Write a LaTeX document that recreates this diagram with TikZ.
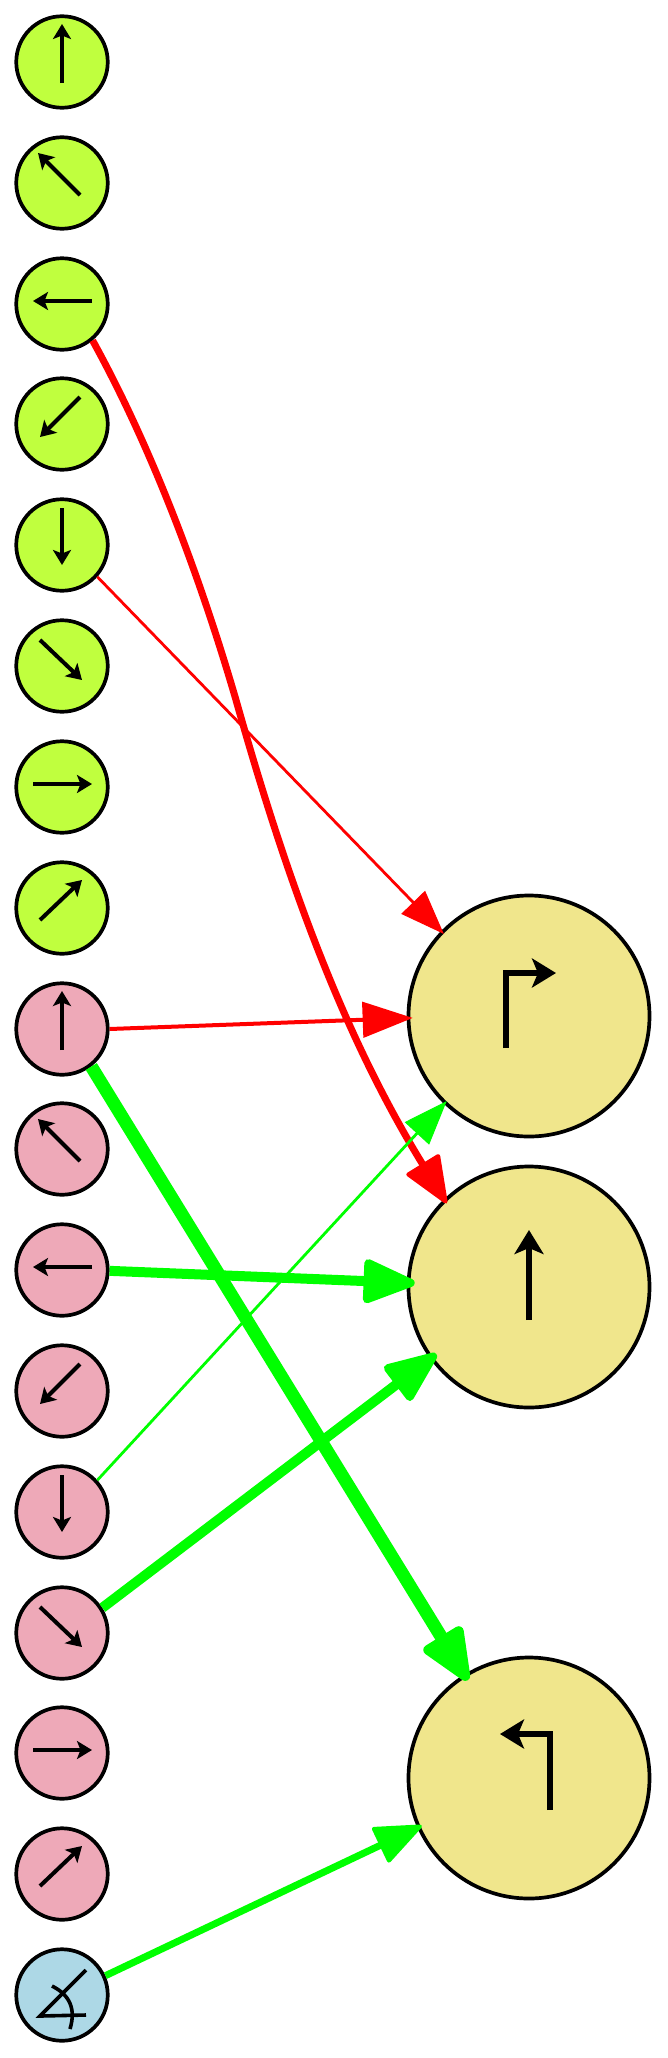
\documentclass[tikz,border=0pt]{standalone}
\usetikzlibrary{arrows.meta}
\definecolor{cgreen}{HTML}{C0FF3E}
\definecolor{cpink}{HTML}{EEA9B8}
\definecolor{cblue}{HTML}{ADD8E6}
\definecolor{ckhaki}{HTML}{F0E68C}
\tikzset{
  small/.style={circle,draw=black,line width=3.7pt,minimum size=91.5pt,inner sep=0pt},
  big/.style={circle,draw=black,fill=ckhaki,line width=3.7pt,minimum size=241pt,inner sep=0pt},
  glyph/.style={line width=4pt,-{Stealth[length=15pt,width=18pt,inset=3.5pt]}},
  bigglyph/.style={line width=5.5pt,miter limit=10,-{Stealth[length=24pt,width=29pt,inset=6pt]}},
  edgeA/.style={line width=2.8pt,shorten >=-4pt,-{Triangle[length=44pt,width=33pt,line width=1pt]}},
  edgeB/.style={line width=4pt,shorten >=-6pt,-{Triangle[length=50pt,width=36pt,line width=1.5pt]}},
  edgeC/.style={line width=7pt,shorten >=-5pt,-{Triangle[length=50pt,width=40pt,round,line width=4pt]}},
  edgeD/.style={line width=10pt,shorten >=-8pt,-{Triangle[length=58pt,width=46pt,round,line width=8pt]}},
  edgeE/.style={line width=13pt,shorten >=-7pt,-{Triangle[length=60pt,width=48pt,round,line width=10pt]}},
}
\begin{document}
\begin{tikzpicture}[x=1pt,y=-1pt]
\useasboundingbox (0,0) rectangle (667,2058);
\node[small,fill=cgreen] (l0) at (62,62) {};
\node[small,fill=cgreen] (l1) at (62,183) {};
\node[small,fill=cgreen] (l2) at (62,304) {};
\node[small,fill=cgreen] (l3) at (62,424) {};
\node[small,fill=cgreen] (l4) at (62,545) {};
\node[small,fill=cgreen] (l5) at (62,666) {};
\node[small,fill=cgreen] (l6) at (62,787) {};
\node[small,fill=cgreen] (l7) at (62,908) {};
\node[small,fill=cpink] (l8) at (62,1029) {};
\node[small,fill=cpink] (l9) at (62,1149) {};
\node[small,fill=cpink] (l10) at (62,1270) {};
\node[small,fill=cpink] (l11) at (62,1391) {};
\node[small,fill=cpink] (l12) at (62,1512) {};
\node[small,fill=cpink] (l13) at (62,1633) {};
\node[small,fill=cpink] (l14) at (62,1753) {};
\node[small,fill=cpink] (l15) at (62,1874) {};
\node[small,fill=cblue] (l16) at (62,1995) {};
\node[big] (r1) at (529,1016) {};
\node[big] (r2) at (529,1287) {};
\node[big] (r3) at (529,1778) {};
% direction glyphs
\foreach \n/\a/\b/\c/\d in {l0/0/21/0/-38,l1/18/12/-24/-30,l2/30/-3/-29/-3,l3/18/-27/-22/13,l4/0/-37/0/20,l5/-22/-26/20/14,l6/-29/-3/30/-3,l7/-22/12/20/-28,
 l8/0/21/0/-38,l9/18/12/-24/-30,l10/30/-3/-29/-3,l11/18/-27/-22/13,l12/0/-37/0/20,l13/-22/-26/20/14,l14/-29/-3/30/-3,l15/-22/12/20/-28}{
  \draw[glyph] ([shift={(\a,\b)}]\n.center) -- ([shift={(\c,\d)}]\n.center);
}
% angle glyph
\draw[line width=3.6pt] ([shift={(24,-25)}]l16.center) -- ([shift={(-22,21)}]l16.center) -- ([shift={(24,20)}]l16.center);
\draw[line width=3.6pt] ([shift={(-10,-9)}]l16.center) .. controls ([shift={(8,0)}]l16.center) and ([shift={(14,14)}]l16.center) .. ([shift={(8,34)}]l16.center);
% big glyphs
\draw[bigglyph] ([shift={(-23,32)}]r1.center) -- ([shift={(-23,-43)}]r1.center) -- ([shift={(27,-43)}]r1.center);
\draw[bigglyph] ([shift={(0,33)}]r2.center) -- ([shift={(0,-57)}]r2.center);
\draw[bigglyph] ([shift={(21,32)}]r3.center) -- ([shift={(21,-44)}]r3.center) -- ([shift={(-29,-44)}]r3.center);
% edges
\coordinate (cm) at (236,700);
\draw[edgeC,red] (l2.-50) .. controls (153,450) and (201,580) .. (cm) .. controls (284,870) and (340,1030) .. (r2.134);
\draw[edgeA,red] (l4.-42) -- (r1.136);
\draw[edgeB,red] (l8.0) -- (r1.181);
\draw[edgeA,green] (l12.42) -- (r1.226);
\draw[edgeD,green] (l10.-1) -- (r2.178);
\draw[edgeD,green] (l13.32) -- (r2.216);
\draw[edgeE,green] (l8.-52) -- (r3.122);
\draw[edgeC,green] (l16.24) -- (r3.204);
\end{tikzpicture}
\end{document}
